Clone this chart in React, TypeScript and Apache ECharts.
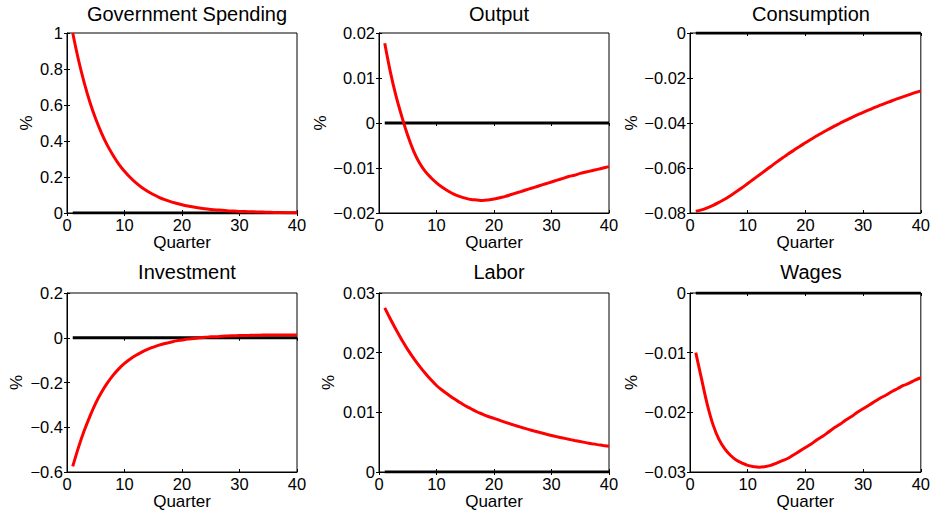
import React, { useEffect, useRef } from "react";
import * as echarts from "echarts";

const quarters = [1, 2, 3, 4, 5, 6, 7, 8, 9, 10, 11, 12, 13, 14, 15, 16, 17, 18, 19, 20, 21, 22, 23, 24, 25, 26, 27, 28, 29, 30, 31, 32, 33, 34, 35, 36, 37, 38, 39, 40];

const titles = ["Government Spending", "Output", "Consumption", "Investment", "Labor", "Wages"];

const govSpending = [1.0, 0.85, 0.723, 0.614, 0.522, 0.444, 0.377, 0.321, 0.272, 0.232, 0.197, 0.167, 0.142, 0.121, 0.103, 0.087, 0.074, 0.063, 0.054, 0.046, 0.039, 0.033, 0.028, 0.024, 0.02, 0.017, 0.015, 0.012, 0.011, 0.009, 0.008, 0.007, 0.006, 0.005, 0.004, 0.003, 0.003, 0.002, 0.002, 0.002];

const output = [0.0177, 0.0112, 0.0058, 0.0013, -0.0028, -0.0062, -0.0088, -0.0107, -0.0121, -0.0133, -0.0143, -0.0151, -0.0158, -0.0163, -0.0167, -0.017, -0.0171, -0.0172, -0.0171, -0.0169, -0.0166, -0.0163, -0.0159, -0.0155, -0.0151, -0.0147, -0.0143, -0.0139, -0.0135, -0.0131, -0.0127, -0.0123, -0.0119, -0.0116, -0.0112, -0.0109, -0.0106, -0.0103, -0.01, -0.0097];

const consumption = [-0.0792, -0.0786, -0.0777, -0.0766, -0.0753, -0.0739, -0.0723, -0.0706, -0.0688, -0.0669, -0.065, -0.0631, -0.0612, -0.0593, -0.0574, -0.0556, -0.0538, -0.0521, -0.0504, -0.0488, -0.0472, -0.0457, -0.0442, -0.0428, -0.0414, -0.0401, -0.0388, -0.0376, -0.0364, -0.0353, -0.0342, -0.0331, -0.0321, -0.0311, -0.0301, -0.0292, -0.0283, -0.0274, -0.0265, -0.0257];

const investment = [-0.575, -0.49, -0.415, -0.35, -0.292, -0.244, -0.203, -0.168, -0.139, -0.115, -0.095, -0.078, -0.064, -0.052, -0.042, -0.033, -0.026, -0.02, -0.014, -0.01, -0.006, -0.003, 0.0, 0.002, 0.004, 0.005, 0.007, 0.008, 0.009, 0.01, 0.01, 0.011, 0.011, 0.012, 0.012, 0.012, 0.012, 0.012, 0.012, 0.012];

const labor = [0.0275, 0.0256, 0.0238, 0.0221, 0.0205, 0.0191, 0.0178, 0.0166, 0.0155, 0.0145, 0.0137, 0.013, 0.0123, 0.0117, 0.0111, 0.0106, 0.0101, 0.0097, 0.0093, 0.009, 0.00865, 0.00832, 0.00801, 0.00771, 0.00742, 0.00714, 0.00687, 0.00661, 0.00636, 0.00612, 0.0059, 0.00569, 0.00549, 0.00529, 0.0051, 0.00492, 0.00475, 0.00459, 0.00444, 0.0043];

const wages = [-0.01, -0.0144, -0.0187, -0.0221, -0.0245, -0.0261, -0.0272, -0.028, -0.0285, -0.0289, -0.0291, -0.0292, -0.0291, -0.0289, -0.0285, -0.0281, -0.0277, -0.0271, -0.0265, -0.0259, -0.0253, -0.0246, -0.024, -0.0233, -0.0226, -0.022, -0.0213, -0.0207, -0.02, -0.0194, -0.0188, -0.0182, -0.0176, -0.0171, -0.0165, -0.016, -0.0155, -0.0151, -0.0146, -0.0142];

const zeroLineX = [1, 40];
const zeroLineY = [0, 0];

const yMin = [0, -0.02, -0.08, -0.6, 0, -0.03];
const yMax = [1, 0.02, 0, 0.2, 0.03, 0];
const yInterval = [0.2, 0.01, 0.02, 0.2, 0.01, 0.01];
const xMin = 0;
const xMax = 40;
const xInterval = 10;
const xAxisName = "Quarter";
const yAxisName = "%";

const allSeries = [govSpending, output, consumption, investment, labor, wages];

// layout
const colLeft = [67, 379, 690];
const colWidth = [230, 230, 232];
const rowTop = [33, 293];
const rowHeight = [180, 179];
const yNameGap = [32, 50, 50, 42, 42, 50];
const titleTop = [-1, 257];

const FONT = "Liberation Sans, Arial, Helvetica, sans-serif";

const fmt = (v: number) => {
  const s = parseFloat(Number(v).toFixed(4)).toString();
  return s.replace("-", "\u2212");
};

export default function App() {
  const ref = useRef<HTMLDivElement>(null);
  useEffect(() => {
    if (!ref.current) return;
    const chart = echarts.init(ref.current, null, { renderer: "svg" });
    const grids: any[] = [];
    const xAxes: any[] = [];
    const yAxes: any[] = [];
    const series: any[] = [];
    const titleOpts: any[] = [];
    for (let i = 0; i < 6; i++) {
      const r = Math.floor(i / 3);
      const c = i % 3;
      grids.push({
        left: colLeft[c],
        top: rowTop[r],
        width: colWidth[c],
        height: rowHeight[r],
        show: true,
        borderColor: "#000",
        borderWidth: 1,
        backgroundColor: "transparent",
      });
      titleOpts.push({
        text: titles[i],
        left: colLeft[c] + colWidth[c] / 2,
        top: titleTop[r],
        textAlign: "center",
        textStyle: { fontFamily: FONT, fontSize: 20, fontWeight: "normal", color: "#000" },
      });
      xAxes.push({
        type: "value",
        gridIndex: i,
        min: xMin,
        max: xMax,
        interval: xInterval,
        position: "bottom",
        name: xAxisName,
        nameLocation: "middle",
        nameGap: 20.5,
        nameTextStyle: { fontFamily: FONT, fontSize: 17, color: "#000" },
        axisLine: { show: true, onZero: false, lineStyle: { color: "#000", width: 1 } },
        axisTick: { show: true, inside: true, length: 3, lineStyle: { color: "#000" } },
        axisLabel: { show: true, margin: 3, fontFamily: FONT, fontSize: 16.5, color: "#000" },
        splitLine: { show: false },
      });
      xAxes.push({
        type: "value",
        gridIndex: i,
        min: xMin,
        max: xMax,
        interval: xInterval,
        position: "top",
        axisLine: { show: false },
        axisTick: { show: true, inside: true, length: 3, lineStyle: { color: "#000" } },
        axisLabel: { show: false },
        splitLine: { show: false },
      });
      yAxes.push({
        type: "value",
        gridIndex: i,
        min: yMin[i],
        max: yMax[i],
        interval: yInterval[i],
        position: "left",
        name: yAxisName,
        nameLocation: "middle",
        nameRotate: 90,
        nameGap: yNameGap[i],
        nameTextStyle: { fontFamily: FONT, fontSize: 17, color: "#000" },
        axisLine: { show: true, onZero: false, lineStyle: { color: "#000", width: 1 } },
        axisTick: { show: true, inside: true, length: 3, lineStyle: { color: "#000" } },
        axisLabel: { show: true, margin: 4, fontFamily: FONT, fontSize: 16.5, color: "#000", formatter: fmt },
        splitLine: { show: false },
      });
      yAxes.push({
        type: "value",
        gridIndex: i,
        min: yMin[i],
        max: yMax[i],
        interval: yInterval[i],
        position: "right",
        axisLine: { show: false },
        axisTick: { show: true, inside: true, length: 3, lineStyle: { color: "#000" } },
        axisLabel: { show: false },
        splitLine: { show: false },
      });
      series.push({
        type: "line",
        xAxisIndex: 2 * i,
        yAxisIndex: 2 * i,
        data: zeroLineX.map((x, k) => [x, zeroLineY[k]]),
        showSymbol: false,
        symbol: "none",
        lineStyle: { color: "#000", width: 3 },
        z: 2,
      });
      series.push({
        type: "line",
        xAxisIndex: 2 * i,
        yAxisIndex: 2 * i,
        data: quarters.map((q, k) => [q, allSeries[i][k]]),
        showSymbol: false,
        symbol: "none",
        smooth: 0.4,
        lineStyle: { color: "#ff0000", width: 3 },
        z: 3,
      });
    }
    chart.setOption({
      animation: false,
      backgroundColor: "#fff",
      title: titleOpts,
      grid: grids,
      xAxis: xAxes,
      yAxis: yAxes,
      series,
    });
    return () => chart.dispose();
  }, []);
  return (
    <div
      ref={ref}
      style={{ position: "absolute", left: 0, top: 0, width: 933, height: 515, background: "#fff" }}
    />
  );
}
